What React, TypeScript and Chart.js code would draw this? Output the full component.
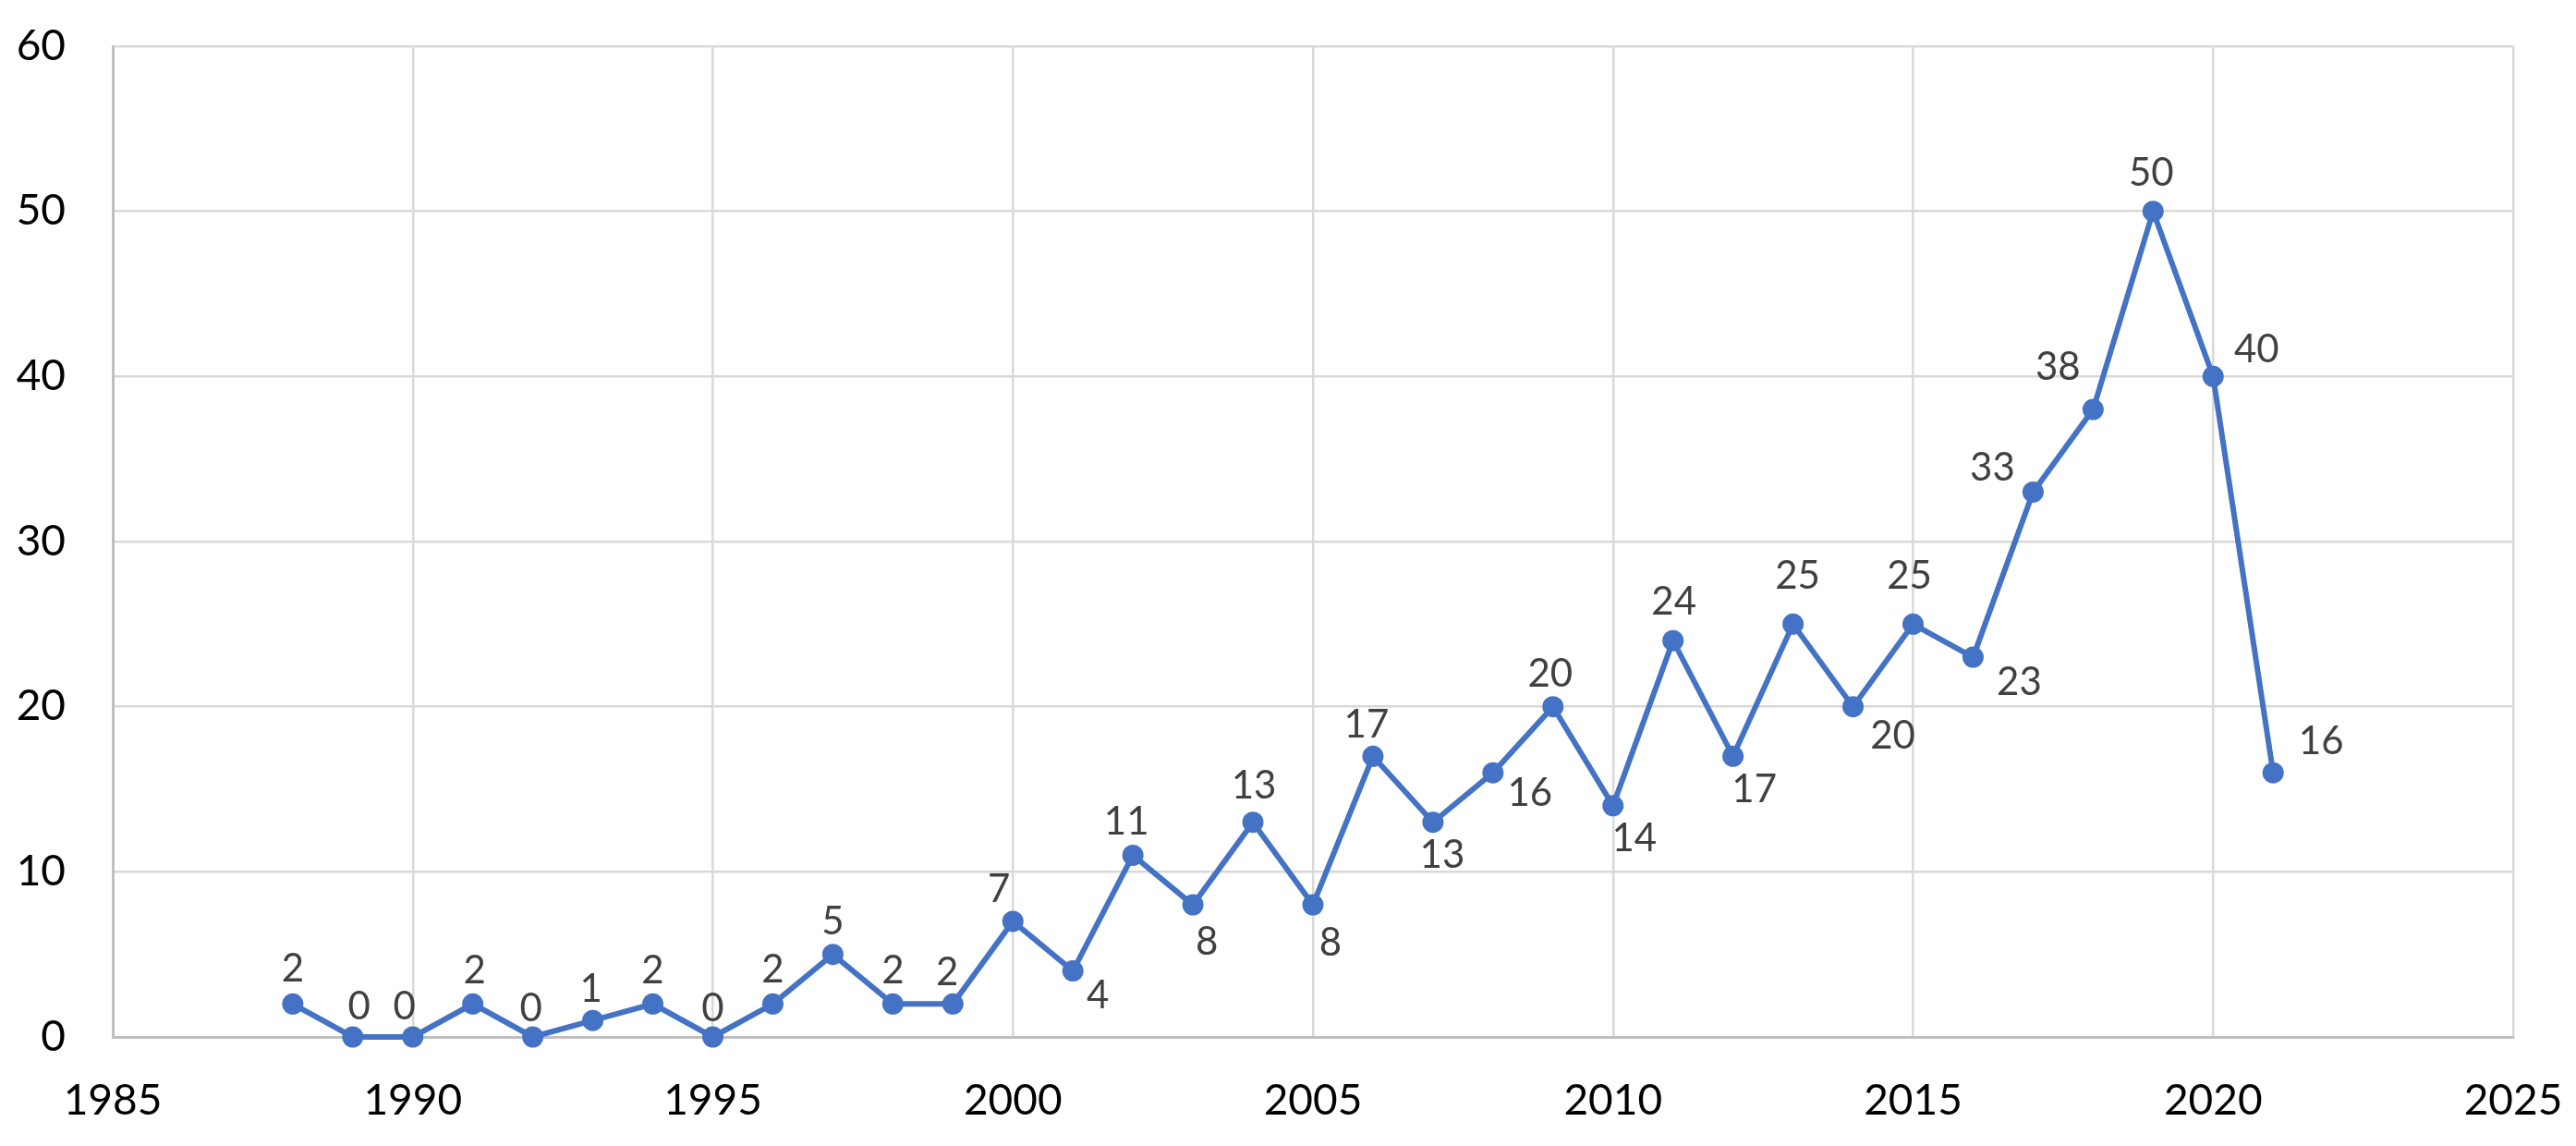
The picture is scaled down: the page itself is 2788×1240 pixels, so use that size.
import React, { useEffect, useRef } from "react";
import { Chart, registerables } from "chart.js";

Chart.register(...registerables);

const years = [
  1988, 1989, 1990, 1991, 1992, 1993, 1994, 1995, 1996, 1997, 1998, 1999,
  2000, 2001, 2002, 2003, 2004, 2005, 2006, 2007, 2008, 2009, 2010, 2011,
  2012, 2013, 2014, 2015, 2016, 2017, 2018, 2019, 2020, 2021,
];
const counts = [
  2, 0, 0, 2, 0, 1, 2, 0, 2, 5, 2, 2,
  7, 4, 11, 8, 13, 8, 17, 13, 16, 20, 14, 24,
  17, 25, 20, 25, 23, 33, 38, 50, 40, 16,
];
// label offsets (pixels) relative to each point
const labelDx = [
  0, 7, -9, 2, -2, -2, 0, 0, 0, 0, 0, -6,
  -15, 27, -7, 15, 1, 19, -7, 10, 40, -3, 23, 1,
  23, 5, 43, -4, 50, -44, -38, -2, 47, 52,
];
const labelDy = [
  -39, -34, -34, -37, -32, -35, -37, -32, -38, -37, -37, -35,
  -36, 25, -37, 39, -41, 40, -35, 34, 21, -37, 34, -43,
  35, -53, 30, -53, 26, -27, -47, -43, -30, -35,
];
const xMin = 1985;
const xMax = 2025;
const xStep = 5;
const yMin = 0;
const yMax = 60;
const yStep = 10;

const LINE = "#4472C4";
const FONT = "Lato, 'Open Sans', sans-serif";

const labelPlugin = {
  id: "pointLabels",
  afterDatasetsDraw(chart: any) {
    const ctx = chart.ctx;
    const meta = chart.getDatasetMeta(0);
    ctx.save();
    ctx.font = `42px ${FONT}`;
    ctx.fillStyle = "#404040";
    ctx.textAlign = "center";
    ctx.textBaseline = "alphabetic";
    meta.data.forEach((el: any, i: number) => {
      const cx = el.x + labelDx[i];
      const cy = el.y + labelDy[i];
      ctx.fillText(String(counts[i]), cx, cy + 15);
    });
    ctx.restore();
  },
};

const zeroPad = (s: any) => {
  s.paddingTop = 0;
  s.paddingBottom = 0;
  s.paddingLeft = 0;
  s.paddingRight = 0;
};

export default function App() {
  const ref = useRef<HTMLCanvasElement | null>(null);
  useEffect(() => {
    if (!ref.current) return;
    const chart = new Chart(ref.current, {
      type: "scatter",
      data: {
        datasets: [
          {
            data: years.map((y, i) => ({ x: y, y: counts[i] })),
            showLine: true,
            borderColor: LINE,
            backgroundColor: LINE,
            borderWidth: 6,
            pointRadius: 11.5,
            pointBorderWidth: 0,
            pointBackgroundColor: LINE,
            clip: false as any,
          },
        ],
      },
      options: {
        responsive: false,
        animation: false,
        layout: { autoPadding: false, padding: { left: 0, top: 50, right: 68, bottom: 0 } },
        plugins: {
          legend: { display: false },
          tooltip: { enabled: false },
        },
        scales: {
          x: {
            type: "linear",
            min: xMin,
            max: xMax,
            afterFit: (s: any) => {
              s.height = 118;
              zeroPad(s);
            },
            ticks: {
              stepSize: xStep,
              padding: 42,
              color: "#000000",
              font: { family: FONT, size: 46 },
              callback: (v: any) => String(v),
            },
            grid: { color: "#d9d9d9", lineWidth: 2.5, drawTicks: false },
            border: { display: true, color: "#bfbfbf", width: 3 },
          },
          y: {
            type: "linear",
            min: yMin,
            max: yMax,
            afterFit: (s: any) => {
              s.width = 122;
              zeroPad(s);
            },
            ticks: {
              stepSize: yStep,
              padding: 51,
              color: "#000000",
              font: { family: FONT, size: 46 },
            },
            grid: { color: "#d9d9d9", lineWidth: 2.5, drawTicks: false },
            border: { display: true, color: "#bfbfbf", width: 3 },
          },
        },
      },
      plugins: [labelPlugin],
    });
    return () => chart.destroy();
  }, []);
  return (
    <div
      style={{
        position: "fixed",
        left: 0,
        top: 0,
        width: 2788,
        height: 1240,
        background: "#ffffff",
      }}
    >
      <canvas ref={ref} width={2788} height={1240} style={{ display: "block" }} />
    </div>
  );
}
